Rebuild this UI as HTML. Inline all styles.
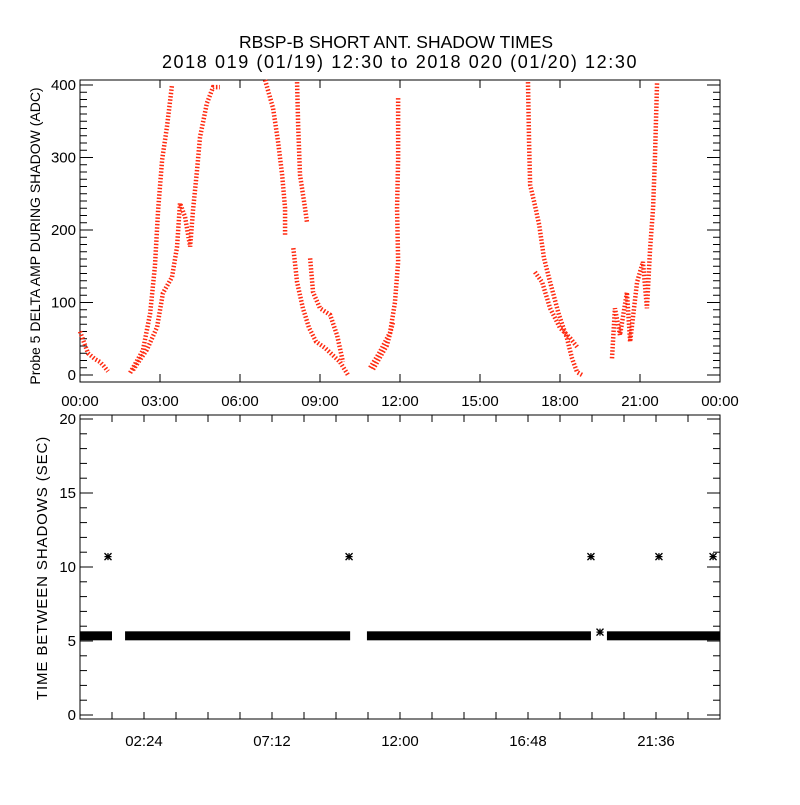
<!DOCTYPE html>
<html><head><meta charset="utf-8"><style>
body{margin:0;background:#fff}
svg text{font-family:"Liberation Sans",sans-serif;fill:#000}
</style></head><body>
<svg id="c" width="800" height="800" xmlns="http://www.w3.org/2000/svg">
<rect width="800" height="800" fill="#fff"/>
<text x="396" y="48" font-size="17.5" text-anchor="middle">RBSP-B SHORT ANT. SHADOW TIMES</text>
<text x="400" y="68" font-size="18" letter-spacing="1.6" text-anchor="middle">2018 019 (01/19) 12:30 to 2018 020 (01/20) 12:30</text>
</svg>
<script>
// Top panel data: branches of (hour, amplitude)
const branchHours = [
 [0,0.15,0.3,0.56,0.75,0.9,1.05],
 [1.88,2.36,2.63,2.81,2.93,3.08,3.26,3.45],
 [1.99,2.51,2.89,3.11,3.45,3.64,3.75,3.94,4.13,4.24,4.39,4.5,4.76,4.99,5.25],
 [6.94,7.24,7.43,7.58,7.69,7.69],
 [8.14,8.18,8.25,8.44,8.51],
 [8.00,8.14,8.36,8.59,8.85,9.2,9.75,10.05],
 [8.63,8.74,9.0,9.38,9.64,9.86],
 [10.88,11.25,11.63,11.81,11.93,11.89,11.93,11.93],
 [10.99,11.51,11.74],
 [16.8,16.84,16.88,17.03,17.22,17.4,17.63,17.96,18.26,18.45,18.64,18.83],
 [17.06,17.33,17.63,18.0,18.38,18.68],
 [19.95,20.06,20.25,20.51,20.63,20.89,21.11,21.26,21.38,21.49,21.56,21.64]
];
const branchValues = [
 [60,45,30,22,18,12,5],
 [3,34,85,150,228,297,342,400],
 [7,35,66,113,135,177,237,218,177,228,283,328,375,397,397],
 [407,368,321,276,230,193],
 [404,345,276,230,211],
 [175,128,92,65,46,37,18,0],
 [161,114,92,83,55,18],
 [10,32,59,100,156,230,299,382],
 [8,41,73],
 [404,321,262,239,207,161,128,83,51,23,4,0],
 [142,128,92,65,51,37],
 [23,92,55,114,46,128,156,92,175,230,299,404]
];
// Bottom panel data
const segStart = [0, 1.69, 10.76, 19.76];
const segEnd = [1.2, 10.13, 19.16, 24];
const segValue = [5.35, 5.35, 5.35, 5.35];
const outlierHours = [1.05, 10.09, 19.16, 21.71, 23.74, 19.5];
const outlierValues = [10.7, 10.7, 10.7, 10.7, 10.7, 5.6];
const topYTicks = [0,100,200,300,400];
const topXLabels = ["00:00","03:00","06:00","09:00","12:00","15:00","18:00","21:00","00:00"];
const botYTicks = [0,5,10,15,20];
const botXLabels = ["02:24","07:12","12:00","16:48","21:36"];

const svg = document.getElementById('c');
const NS = 'http://www.w3.org/2000/svg';
function mk(t, a){const e=document.createElementNS(NS,t);for(const k in a)e.setAttribute(k,a[k]);svg.appendChild(e);return e;}
const L=80,R=720;
const xs = h => L + h/24*(R-L);
const yTop = v => 375 - v*0.725;
const yBot = v => 715 - v*14.8;

let f = mk('rect',{x:L,y:80,width:R-L,height:302,fill:'none',stroke:'#000','stroke-width':1});


for(let v=0; v<=400; v+=10){
  const maj = v%100===0, len = maj?13:7, y=yTop(v);
  let t=mk('line',{x1:L,x2:L+len,y1:y,y2:y,stroke:'#000'});
  
  
  let t2=mk('line',{x1:R,x2:R-len,y1:y,y2:y,stroke:'#000'});
  
  
}
topYTicks.forEach(v=>{
  let t=mk('text',{x:L-4,y:yTop(v)+5,'font-size':15,'text-anchor':'end'});t.textContent=v;
  
  
});
topXLabels.forEach((s,i)=>{
  const x=xs(i*3);
  let a=mk('line',{x1:x,x2:x,y1:382,y2:374,stroke:'#000'});
  
  
  let b=mk('line',{x1:x,x2:x,y1:80,y2:88,stroke:'#000'});
  
  
  let t=mk('text',{x:x,y:406,'font-size':15,'text-anchor':'middle'});t.textContent=s;
  
  
});
let yl=mk('text',{transform:'translate(40,236) rotate(-90)','font-size':14,'text-anchor':'middle'});
yl.textContent='Probe 5 DELTA AMP DURING SHADOW (ADC)';



branchHours.forEach((hs,i)=>{
  const pts = hs.map((h,j)=>xs(h)+','+Math.min(382,Math.max(80,yTop(branchValues[i][j])))).join(' ');
  let p=mk('polyline',{points:pts,fill:'none',stroke:'#ff2a10','stroke-width':4.5,'stroke-dasharray':'1.5 1.8'});
  
  
});

let f2=mk('rect',{x:L,y:415,width:R-L,height:304,fill:'none',stroke:'#000','stroke-width':1});


for(let v=0; v<=20; v+=1){
  const maj=v%5===0,len=maj?13:7,y=yBot(v);
  let t=mk('line',{x1:L,x2:L+len,y1:y,y2:y,stroke:'#000'});
  
  
  let t2=mk('line',{x1:R,x2:R-len,y1:y,y2:y,stroke:'#000'});
  
  
}
botYTicks.forEach(v=>{
  let t=mk('text',{x:L-4,y:yBot(v)+5,'font-size':15,'text-anchor':'end'});t.textContent=v;
  
  
});
for(let k=1;k<20;k++){
  const x=xs(k*1.2);
  let a=mk('line',{x1:x,x2:x,y1:719,y2:712,stroke:'#000'});
  
  
  let b=mk('line',{x1:x,x2:x,y1:415,y2:422,stroke:'#000'});
  
  
}
botXLabels.forEach((s,i)=>{
  let t=mk('text',{x:xs(2.4+i*4.8),y:746,'font-size':15,'text-anchor':'middle'});t.textContent=s;
  
  
});
let yl2=mk('text',{transform:'translate(47,568) rotate(-90)','font-size':15,'letter-spacing':'0.9','text-anchor':'middle'});
yl2.textContent='TIME BETWEEN SHADOWS (SEC)';



segStart.forEach((s,i)=>{
  const x1=xs(s),x2=xs(segEnd[i]),yc=yBot(segValue[i]);
  let r=mk('rect',{x:x1,y:yc-4.5,width:x2-x1,height:9,fill:'#000'});
  
  
});
outlierHours.forEach((h,i)=>{
  const x=xs(h),y=yBot(outlierValues[i]),s=3.5;
  let p=mk('path',{d:`M${x-s},${y}H${x+s}M${x},${y-s}V${y+s}M${x-s},${y-s}L${x+s},${y+s}M${x-s},${y+s}L${x+s},${y-s}`,stroke:'#000','stroke-width':1.3,fill:'none'});
  
  
});
</script>
</body></html>
